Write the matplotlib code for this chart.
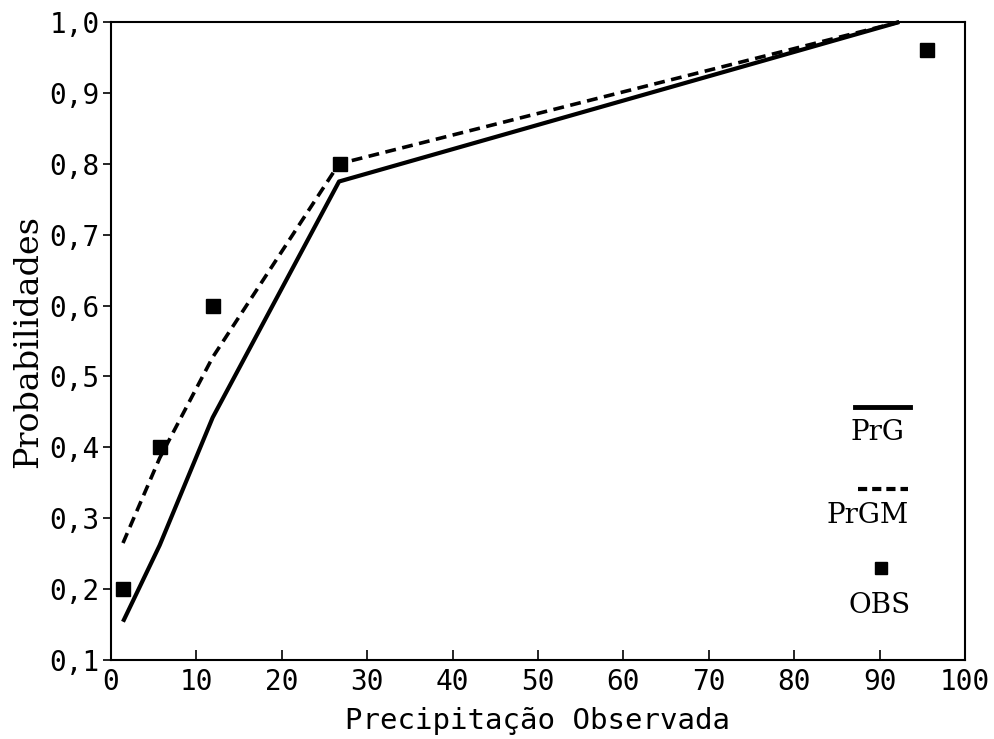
import matplotlib
matplotlib.use("Agg")
import matplotlib.pyplot as plt
from matplotlib.lines import Line2D

# Data
prg_x = [1.4, 5.7, 11.9, 26.7, 92.3]
prg_y = [0.154, 0.262, 0.442, 0.775, 1.0]

prgm_x = [1.4, 5.7, 11.9, 26.7, 92.3]
prgm_y = [0.265, 0.385, 0.527, 0.800, 1.0]

obs_x = [1.4, 5.7, 11.9, 26.8, 95.6]
obs_y = [0.200, 0.400, 0.600, 0.800, 0.960]

x_ticks = [0, 10, 20, 30, 40, 50, 60, 70, 80, 90, 100]
y_ticks = [0.1, 0.2, 0.3, 0.4, 0.5, 0.6, 0.7, 0.8, 0.9, 1.0]
y_ticklabels = ["0,1", "0,2", "0,3", "0,4", "0,5", "0,6", "0,7", "0,8", "0,9", "1,0"]

SERIF = ["DejaVu Serif", "Liberation Serif"]

fig = plt.figure(figsize=(9.95, 7.39), dpi=100)
ax = fig.add_axes([0.1116, 0.1069, 0.8582, 0.8633])

ax.plot(prg_x, prg_y, color="black", lw=3.0, solid_capstyle="butt", clip_on=False, zorder=3)
ax.plot(prgm_x, prgm_y, color="black", lw=2.6, dashes=(3.0, 1.8), clip_on=False, zorder=3)
ax.plot(obs_x, obs_y, linestyle="none", marker="s", ms=9.5, color="black", clip_on=False, zorder=4)

ax.set_xlim(0, 100)
ax.set_ylim(0.1, 1.0)
ax.set_xticks(x_ticks)
ax.set_xticklabels([str(v) for v in x_ticks], family="DejaVu Sans Mono", fontsize=20)
ax.set_yticks(y_ticks)
ax.set_yticklabels(y_ticklabels, family="DejaVu Sans Mono", fontsize=20)

ax.tick_params(axis="x", direction="in", length=7, width=1.2, pad=6)
ax.tick_params(axis="y", direction="out", length=6, width=1.2, pad=2)

for s in ax.spines.values():
    s.set_linewidth(1.5)
    s.set_color("black")

ax.set_xlabel("Precipitação Observada", family="DejaVu Sans Mono", fontsize=21, labelpad=8)
ax.set_ylabel("Probabilidades", family=SERIF, fontsize=24, labelpad=4)

# Custom legend (handles above labels)
tr = ax.transAxes
ax.add_line(Line2D([0.871, 0.936], [0.397, 0.397], transform=tr, color="black", lw=3.5))
ax.text(0.898, 0.357, "PrG", transform=tr, ha="center", va="center",
        family=SERIF, fontsize=20)
ax.add_line(Line2D([0.875, 0.933], [0.268, 0.268], transform=tr, color="black", lw=3.0,
                   dashes=(2.2, 1.2)))
ax.text(0.886, 0.227, "PrGM", transform=tr, ha="center", va="center",
        family=SERIF, fontsize=20)
ax.add_line(Line2D([0.902], [0.144], transform=tr, marker="s", ms=9, color="black",
                   linestyle="none"))
ax.text(0.900, 0.086, "OBS", transform=tr, ha="center", va="center",
        family=SERIF, fontsize=20)

fig.savefig("out.png", dpi=100)
